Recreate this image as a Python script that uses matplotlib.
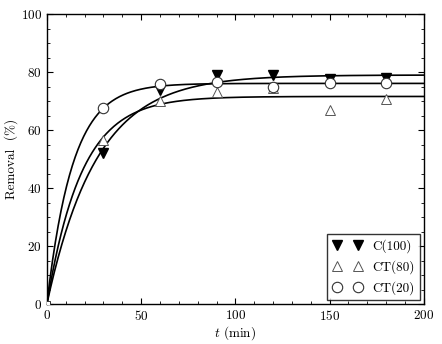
import numpy as np
import matplotlib
matplotlib.use("Agg")
import matplotlib.pyplot as plt
from matplotlib.ticker import MultipleLocator

plt.rcParams['font.family'] = ['cmr10', 'DejaVu Serif']
plt.rcParams['mathtext.fontset'] = 'cm'
plt.rcParams['axes.formatter.use_mathtext'] = True

t = [0, 30, 60, 90, 120, 150, 180]
c100 = [0, 52, 74, 79, 79, 77.5, 78]
ct80 = [0, 56.5, 70, 73, 74.4, 67, 70.7]
ct20 = [0, 67.6, 75.8, 76.6, 74.8, 76.2, 76.2]

# first-order fit parameters (qe, k)
fit_c100 = (79.0, 0.038)
fit_ct80 = (71.6, 0.0545)
fit_ct20 = (76.1, 0.073)

fig = plt.figure(figsize=(4.42, 3.44), dpi=100)
ax = fig.add_axes([0.106, 0.116, 0.853, 0.843])

tt = np.linspace(0, 200, 400)
for qe, k in (fit_c100, fit_ct80, fit_ct20):
    ax.plot(tt, qe * (1 - np.exp(-k * tt)), color='black', lw=1.2, zorder=2)

ax.plot(t[1:], c100[1:], linestyle='none', marker='v', ms=7, mfc='black', mec='black', label='C(100)', zorder=3)
ax.plot(t[1:], ct80[1:], linestyle='none', marker='^', ms=7.5, mfc='white', mec='#555555', mew=0.7, label='CT(80)', zorder=3)
ax.plot(t[1:], ct20[1:], linestyle='none', marker='o', ms=7.5, mfc='white', mec='#333333', mew=0.8, label='CT(20)', zorder=4)
ax.plot([t[0]], [c100[0]], linestyle='none', marker='s', ms=4, mfc='white', mec='#333333', mew=0.7, zorder=4)

ax.set_xlim(0, 200)
ax.set_ylim(0, 100)
ax.xaxis.set_major_locator(MultipleLocator(50))
ax.xaxis.set_minor_locator(MultipleLocator(10))
ax.yaxis.set_major_locator(MultipleLocator(20))
ax.yaxis.set_minor_locator(MultipleLocator(5))
ax.tick_params(which='both', direction='in', top=True, right=True, labelsize=9.5)
ax.tick_params(which='major', length=4)
ax.tick_params(which='minor', length=2)
for s in ax.spines.values():
    s.set_linewidth(1.0)

ax.set_xlabel(r'$t$ (min)', fontsize=9.5, labelpad=1)
ax.set_ylabel('Removal  (%)', fontsize=9.5, labelpad=2)

leg = ax.legend(loc='lower right', numpoints=2, fontsize=9.5, frameon=True, fancybox=False,
                edgecolor='black', borderaxespad=0.3, handlelength=2.2, labelspacing=0.55)
leg.get_frame().set_linewidth(1.0)

fig.savefig('out.png', dpi=100)
